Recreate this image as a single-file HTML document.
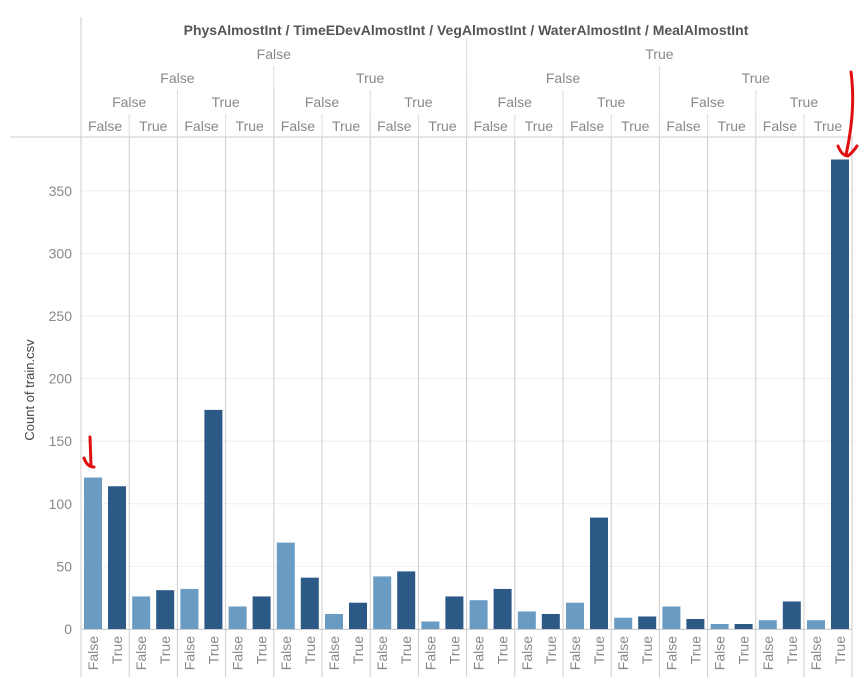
<!DOCTYPE html>
<html><head><meta charset="utf-8"><style>
body{margin:0;background:#fff}
svg{display:block;font-family:"Liberation Sans",sans-serif}
</style></head><body>
<svg id="chart" width="865" height="696" viewBox="0 0 865 696" xmlns="http://www.w3.org/2000/svg"></svg>
<script>
const panelLabels=["F/F/F/F","F/F/F/T","F/F/T/F","F/F/T/T","F/T/F/F","F/T/F/T","F/T/T/F","F/T/T/T","T/F/F/F","T/F/F/T","T/F/T/F","T/F/T/T","T/T/F/F","T/T/F/T","T/T/T/F","T/T/T/T"];
const falseValues=[121,26,32,18,69,12,42,6,23,14,21,9,18,4,7,7];
const trueValues=[114,31,175,26,41,21,46,26,32,12,89,10,18,4,22,375].map((v,i)=>[114,31,175,26,41,21,46,26,32,12,89,10,8,4,22,375][i]);
const yTicks=[0,50,100,150,200,250,300,350];
const svg=document.getElementById('chart');
const NS='http://www.w3.org/2000/svg';
const x0=81,pw=48.2,y0=629,k=1.252;
const y=v=>y0-v*k;
function mk(t,a,p){const e=document.createElementNS(NS,t);for(const q in a)e.setAttribute(q,a[q]);(p||svg).appendChild(e);return e;}
// gridlines + ticks
yTicks.forEach(t=>{
  const g=mk('line',{x1:x0,x2:852,y1:y(t),y2:y(t),stroke:'#eeeeee','stroke-width':1});
  
  
  const tx=mk('text',{x:72,y:y(t)+5,'text-anchor':'end','font-size':14,fill:'#888'});
  tx.textContent=t;
  
  
});
// header
const title=mk('text',{x:466,y:35,'text-anchor':'middle','font-size':14,'font-weight':'bold',fill:'#555'});
title.textContent='PhysAlmostInt / TimeEDevAlmostInt / VegAlmostInt / WaterAlmostInt / MealAlmostInt';


mk('line',{x1:81,x2:81,y1:17,y2:677,stroke:'#cccccc'});
mk('line',{x1:10,x2:853,y1:137,y2:137,stroke:'#cccccc'});
mk('line',{x1:852,x2:852,y1:137,y2:677,stroke:'#cccccc'});
mk('line',{x1:81,x2:852,y1:629.5,y2:629.5,stroke:'#cccccc'});
const rows=[[59,8],[83,4],[107,2],[131,1]];
rows.forEach(([ty,span],ri)=>{
  const n=16/span/2;
  for(let i=0;i<16/span;i++){
    const xa=x0+i*span*pw,xb=xa+span*pw;
    if(i>0){mk('line',{x1:xa,x2:xa,y1:ty-17+(ri==0?-4:0),y2:137,stroke:'#dddddd'});}
    const t=mk('text',{x:(xa+xb)/2,y:ty+(ri==0?0:0),'text-anchor':'middle','font-size':14,fill:'#888'});
    t.textContent=(ri==3? (i%2?'True':'False') : (i%2?'True':'False'));
    
    
  }
});
// panels and bars
panelLabels.forEach((p,i)=>{
  const px=x0+i*pw;
  if(i>0)mk('line',{x1:px,x2:px,y1:137,y2:677,stroke:'#cccccc'});
  const b1=mk('rect',{x:px+3,y:y(falseValues[i]),width:18,height:falseValues[i]*k,fill:'#6a9bc3'});
  
  
  const b2=mk('rect',{x:px+27,y:y(trueValues[i]),width:18,height:trueValues[i]*k,fill:'#2c5985'});
  
  
  [['False',px+12],['True',px+36]].forEach(([lab,cx])=>{
    const t=mk('text',{x:0,y:0,'text-anchor':'end','font-size':14,fill:'#888',transform:`translate(${cx+5},636) rotate(-90)`});
    t.textContent=lab;
    
    
  });
});
const yt=mk('text',{'text-anchor':'middle','font-size':13,fill:'#444',transform:'translate(34,390) rotate(-90)'});
yt.textContent='Count of train.csv';


// red annotations
const a1=mk('path',{d:'M90 437 L91 466 M84 458 Q87 467 94 467',stroke:'#e01010','stroke-width':3,fill:'none','stroke-linecap':'round'});


const a2=mk('path',{d:'M851 72 Q856 110 846 155 M838 146 Q842 156 848 156 Q853 152 857 146',stroke:'#e01010','stroke-width':3,fill:'none','stroke-linecap':'round'});


</script>
</body></html>
